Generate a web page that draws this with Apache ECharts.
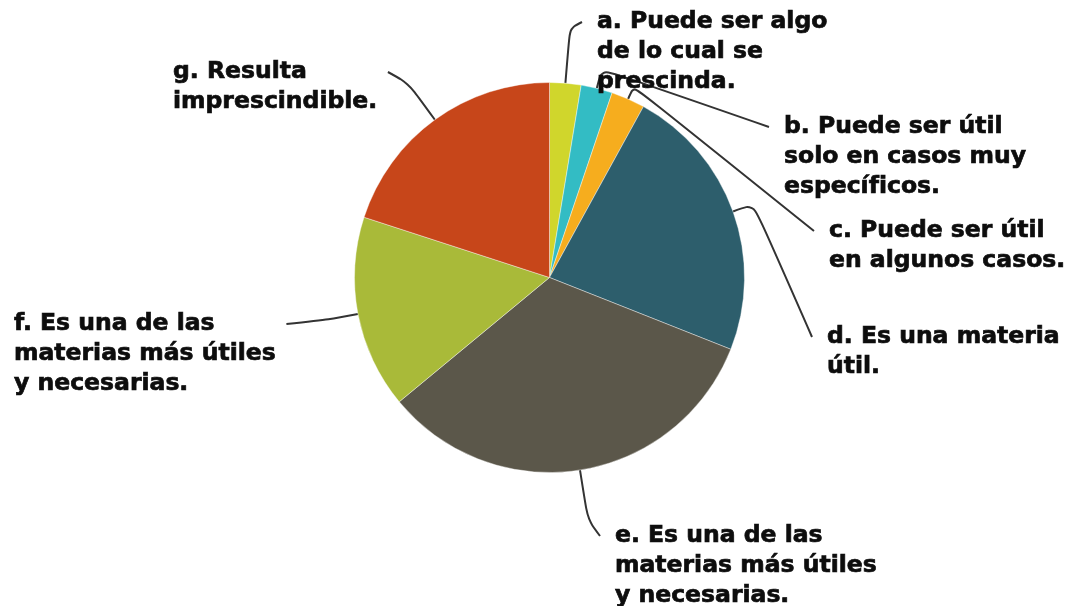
<!DOCTYPE html>
<html lang="es">
<head>
    <meta charset="UTF-8">
    <title>Utilidad de la materia</title>
    <script src="https://cdn.jsdelivr.net/npm/echarts@6/dist/echarts.min.js"></script>
    <style>
        html, body { margin: 0; padding: 0; background: #fff; }
    </style>
</head>
<body>
<div id="main" style="width: 1073px;height:606px;"></div>
<script>
    // respuestas (en %)
    var categorias = [
        'a. Puede ser algo\nde lo cual se\nprescinda.',
        'b. Puede ser útil\nsolo en casos muy\nespecíficos.',
        'c. Puede ser útil\nen algunos casos.',
        'd. Es una materia\nútil.',
        'e. Es una de las\nmaterias más útiles\ny necesarias.',
        'f. Es una de las\nmaterias más útiles\ny necesarias.',
        'g. Resulta\nimprescindible.'
    ];
    var valores = [2.6, 2.6, 2.8, 23.0, 33.0, 16.0, 20.0];
    var colores = ['#d0d62c', '#33bcc4', '#f6ad1e', '#2d5e6c', '#5b574a', '#a9ba39', '#c7461a'];

    // posicion de cada etiqueta: x izquierda, y centro de la primera linea
    var posEtiquetas = [[597, 22], [784, 127], [829, 231], [827, 337], [615, 536], [14, 324], [173, 72]];
    // lado hacia donde sale la guia (1 = etiqueta a la derecha, -1 = a la izquierda)
    var ladoEtiquetas = [1, 1, 1, 1, 1, -1, -1];
    // largo del primer tramo de cada guia
    var largoGuias = [55, 20, 14, 22, 50, 30, 45];

    var ALTO_LINEA = 30;

    var myChart = echarts.init(document.getElementById('main'));

    var datos = [];
    for (var i = 0; i < valores.length; i++) {
        datos.push({
            name: categorias[i],
            value: valores[i],
            itemStyle: { color: colores[i] },
            labelLine: { length: largoGuias[i], length2: 0 }
        });
    }

    var option = {
        animation: false,
        series: [
            {
                type: 'pie',
                center: [549.5, 277.5],
                radius: 195,
                startAngle: 90,
                clockwise: true,
                avoidLabelOverlap: false,
                itemStyle: {
                    borderColor: '#ffffff',
                    borderWidth: 0.4
                },
                label: {
                    show: true,
                    position: 'outside',
                    formatter: '{b}',
                    fontFamily: 'DejaVu Sans',
                    fontWeight: 'bold',
                    fontSize: 23.5,
                    lineHeight: ALTO_LINEA,
                    color: '#0d0d0d',
                    textBorderColor: '#0d0d0d',
                    textBorderWidth: 0.7
                },
                labelLine: {
                    show: true,
                    smooth: 0.3,
                    lineStyle: { color: '#333333', width: 2 }
                },
                labelLayout: function (params) {
                    var i = params.dataIndex;
                    var x = posEtiquetas[i][0];
                    var y = posEtiquetas[i][1];
                    var res = {
                        x: x,
                        y: y - ALTO_LINEA / 2,
                        align: 'left',
                        verticalAlign: 'top'
                    };
                    var pts = params.labelLinePoints;
                    if (pts && pts.length >= 2) {
                        var fin;
                        if (ladoEtiquetas[i] > 0) {
                            fin = [x - 15, y];
                        } else {
                            fin = [x + params.labelRect.width + 10, y];
                        }
                        res.labelLinePoints = [pts[0], pts[1], fin];
                    }
                    return res;
                },
                data: datos
            }
        ]
    };
    myChart.setOption(option);
</script>
</body>
</html>
